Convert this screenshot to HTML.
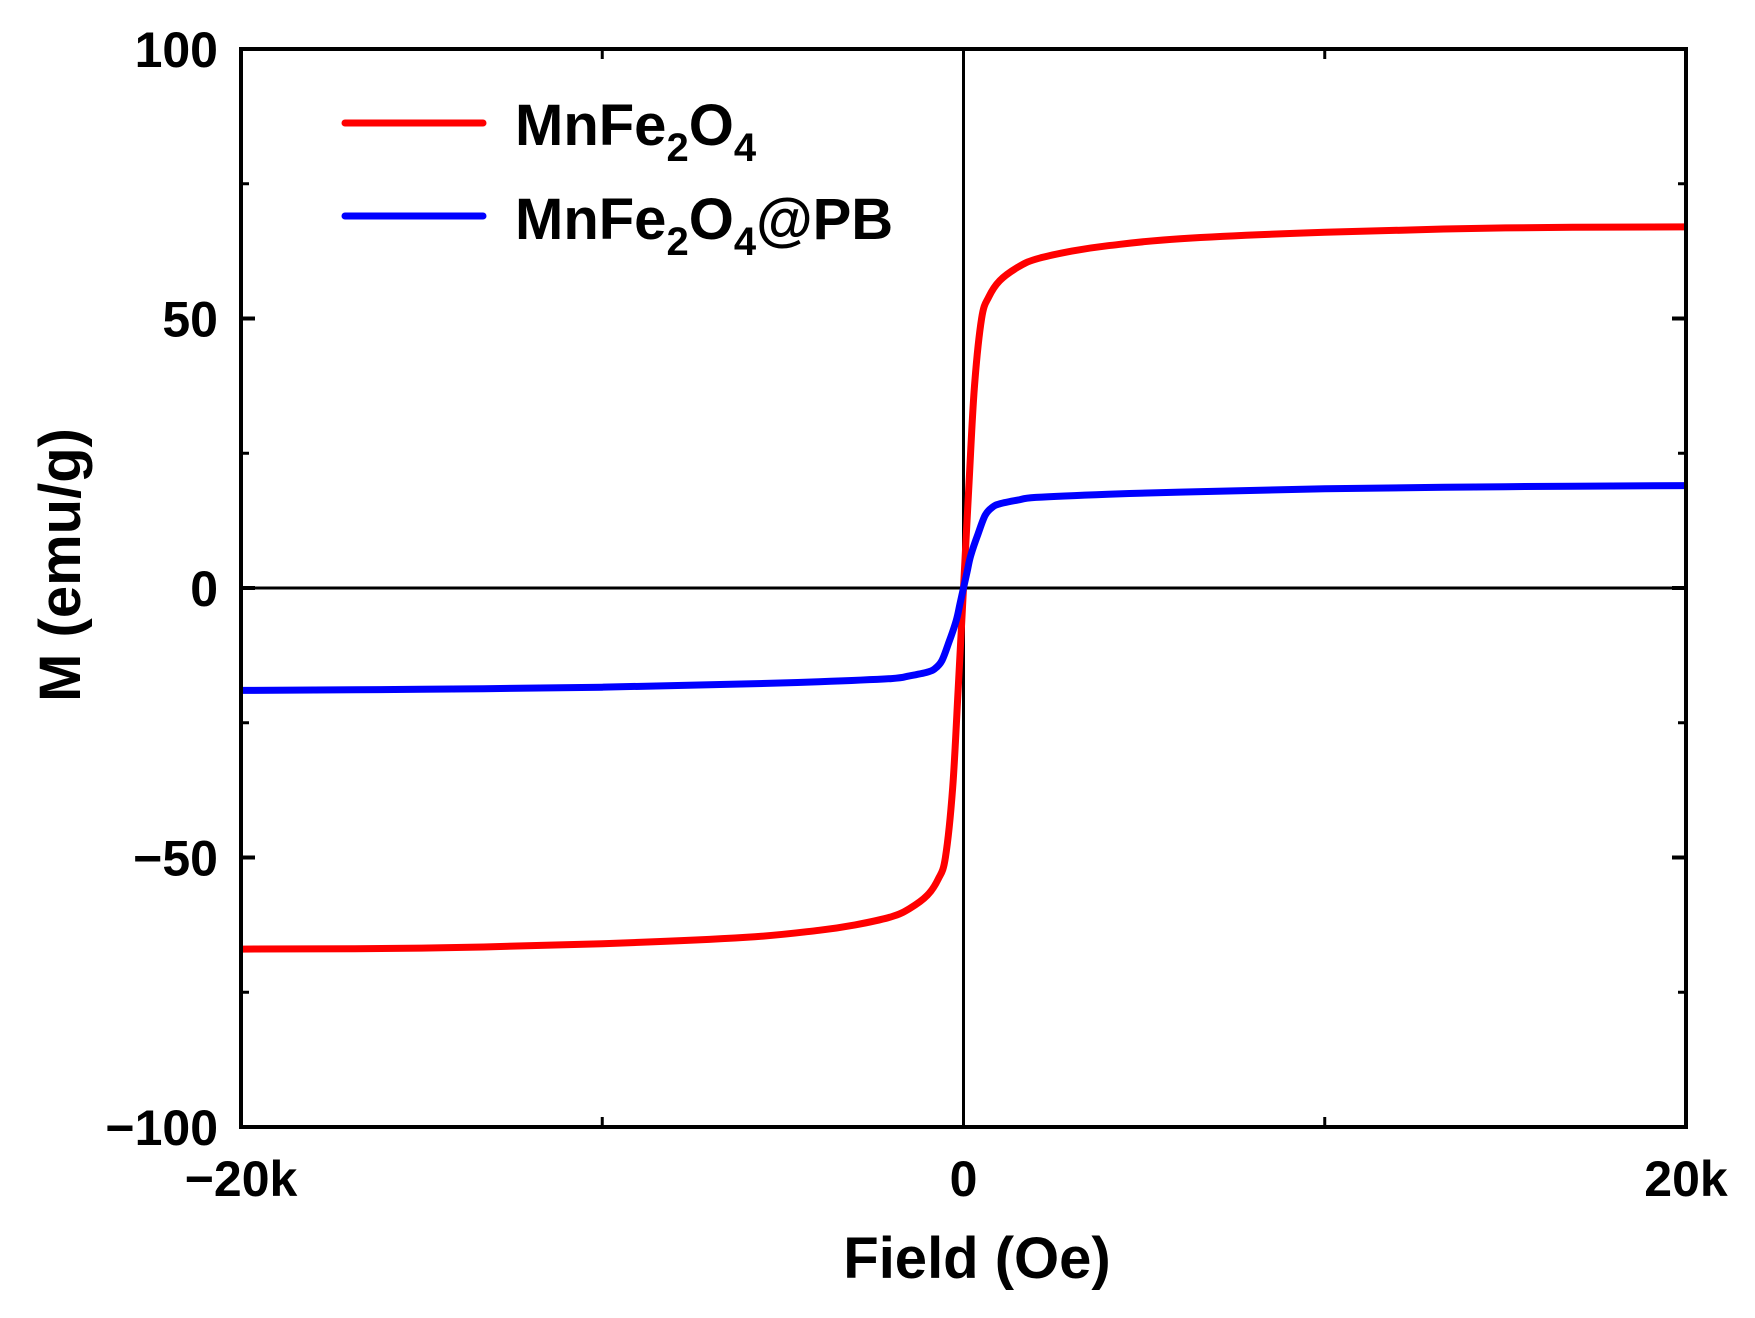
<!DOCTYPE html>
<html><head><meta charset="utf-8"><style>
html,body{margin:0;padding:0;background:#fff;}
body{position:relative;width:1755px;height:1318px;overflow:hidden;}
svg{display:block;font-family:"Liberation Sans",Arial,sans-serif;font-weight:bold;}
</style></head><body>
<svg id="chart" width="1755" height="1318" viewBox="0 0 1755 1318">
<g id="plot"></g>
</svg>
<script>
const fields = [-20000,-15000,-10000,-6000,-4000,-3000,-2000,-1500,-1000,-700,-500,-300,-150,0,150,300,500,700,1000,1500,2000,3000,4000,6000,10000,15000,20000];
const mnfe2o4 = [-67,-66.8,-66,-64.8,-63.5,-62.5,-61,-59.5,-57,-54,-50,-37,-19,0,19,37,50,54,57,59.5,61,62.5,63.5,64.8,66,66.8,67];
const blueFields = [-20000,-15000,-10000,-6000,-4000,-2000,-1500,-1000,-800,-600,-400,-200,-100,0,100,200,400,600,800,1000,1500,2000,4000,6000,10000,15000,20000];
const mnfe2o4pb = [-19,-18.8,-18.4,-17.8,-17.4,-16.8,-16.3,-15.6,-15,-13.5,-10,-6,-3,0,3,6,10,13.5,15,15.6,16.3,16.8,17.4,17.8,18.4,18.8,19];
const yTicks = [-100,-50,0,50,100];
const yMinor = [-75,-25,25,75];
const xTicks = [-20000,0,20000];
const xTickLabels = ["\u221220k","0","20k"];
const xMinor = [-10000,10000];

const L=241,R=1686,T=49,B=1127;
const sx=v=>L+(v+20000)/40000*(R-L);
const sy=v=>B-(v+100)/200*(B-T);
const NS="http://www.w3.org/2000/svg";
const g=document.getElementById('plot');
function mk(tag,attrs,parent){const e=document.createElementNS(NS,tag);for(const k in attrs)e.setAttribute(k,attrs[k]);(parent||g).appendChild(e);return e;}

let e=mk('line',{x1:L,x2:R,y1:sy(0),y2:sy(0),stroke:'#000','stroke-width':3});


e=mk('line',{x1:sx(0),x2:sx(0),y1:T,y2:B,stroke:'#000','stroke-width':3});



yTicks.forEach(v=>{
  e=mk('line',{x1:L,x2:L+14,y1:sy(v),y2:sy(v),stroke:'#000','stroke-width':4});
  
  
  e=mk('line',{x1:R-14,x2:R,y1:sy(v),y2:sy(v),stroke:'#000','stroke-width':4});
  
  
  const t=mk('text',{x:218,y:sy(v)+18,'text-anchor':'end','font-size':50});
  t.textContent=(v<0?'\u2212'+(-v):String(v));
  
  
});
yMinor.forEach(v=>{
  e=mk('line',{x1:L,x2:L+8,y1:sy(v),y2:sy(v),stroke:'#000','stroke-width':3});
  
  
  e=mk('line',{x1:R-8,x2:R,y1:sy(v),y2:sy(v),stroke:'#000','stroke-width':3});
  
  
});
xTicks.forEach((v,i)=>{
  const t=mk('text',{x:sx(v),y:1196,'text-anchor':'middle','font-size':50});
  t.textContent=xTickLabels[i];
  
  
});
xMinor.forEach(v=>{
  e=mk('line',{x1:sx(v),x2:sx(v),y1:B,y2:B-10,stroke:'#000','stroke-width':3});
  
  
  e=mk('line',{x1:sx(v),x2:sx(v),y1:T,y2:T+10,stroke:'#000','stroke-width':3});
  
  
});

// smooth monotone-ish path (Catmull-Rom with clamped handles)
function path(xs,ys){
  const P=xs.map((x,i)=>[sx(x),sy(ys[i])]);
  let d='M'+P[0][0].toFixed(1)+','+P[0][1].toFixed(1);
  for(let i=0;i<P.length-1;i++){
    const p0=P[Math.max(0,i-1)],p1=P[i],p2=P[i+1],p3=P[Math.min(P.length-1,i+2)];
    const t=1/6;
    let c1=[p1[0]+(p2[0]-p0[0])*t,p1[1]+(p2[1]-p0[1])*t];
    let c2=[p2[0]-(p3[0]-p1[0])*t,p2[1]-(p3[1]-p1[1])*t];
    c1[0]=Math.min(Math.max(c1[0],p1[0]),p2[0]);
    c2[0]=Math.min(Math.max(c2[0],p1[0]),p2[0]);
    d+=' C'+c1[0].toFixed(1)+','+c1[1].toFixed(1)+' '+c2[0].toFixed(1)+','+c2[1].toFixed(1)+' '+p2[0].toFixed(1)+','+p2[1].toFixed(1);
  }
  return d;
}
e=mk('path',{d:path(fields,mnfe2o4),fill:'none',stroke:'#ff0000','stroke-width':7,'stroke-linejoin':'round'});


e=mk('path',{d:path(blueFields,mnfe2o4pb),fill:'none',stroke:'#0000ff','stroke-width':7,'stroke-linejoin':'round'});



e=mk('rect',{x:L,y:T,width:R-L,height:B-T,fill:'none',stroke:'#000','stroke-width':4});


</script>
<svg width="1755" height="1318" style="position:absolute;left:0;top:0">
<g font-family="Liberation Sans, Arial, sans-serif" font-weight="bold">
<text x="977" y="1278" text-anchor="middle" font-size="58">Field (Oe)</text>
<text transform="translate(80,565) rotate(-90)" text-anchor="middle" font-size="58">M (emu/g)</text>
<g>
<line x1="345" y1="123" x2="483" y2="123" stroke="#ff0000" stroke-width="7" stroke-linecap="round"/>
<line x1="345" y1="216" x2="483" y2="216" stroke="#0000ff" stroke-width="7" stroke-linecap="round"/>
<text x="515" y="145" font-size="58">MnFe<tspan font-size="40" dy="16">2</tspan><tspan dy="-16">O</tspan><tspan font-size="40" dy="16">4</tspan></text>
<text x="515" y="239" font-size="58">MnFe<tspan font-size="40" dy="16">2</tspan><tspan dy="-16">O</tspan><tspan font-size="40" dy="16">4</tspan><tspan dy="-16">@PB</tspan></text>
</g>
</g>
</svg>
</body></html>
